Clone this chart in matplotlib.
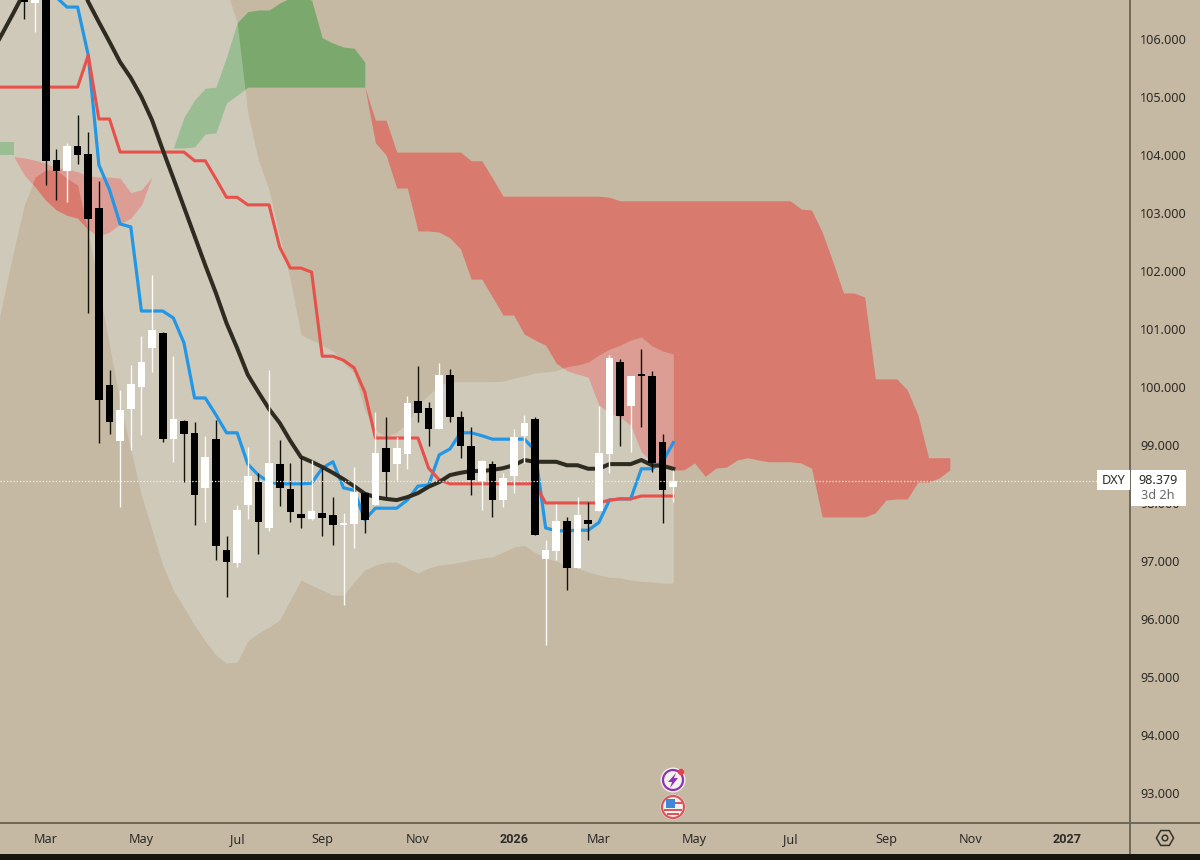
import numpy as np
import matplotlib
matplotlib.use("Agg")
import matplotlib.pyplot as plt
from matplotlib.patches import Rectangle, Circle, Polygon, RegularPolygon
from matplotlib.lines import Line2D
from matplotlib.transforms import Affine2D

plt.rcParams['font.family'] = ['Noto Sans', 'DejaVu Sans']

# ---- weekly candles, week index -2 .. 59 (week 0 = first March 2025 week)
candle_weeks = list(range(-2, 60))
opens = [107.0, 106.62, 107.0, 103.91, 103.72, 104.15, 104.02, 103.09, 100.03, 99.07,
         99.62, 100.0, 100.67, 100.93, 99.10, 99.41, 99.21, 98.26, 99.10, 97.19,
         96.96, 97.97, 98.36, 97.57, 98.67, 98.24, 97.81, 97.72, 97.83, 97.79,
         97.62, 97.64, 98.17, 97.97, 98.95, 98.67, 98.84, 99.76, 99.64, 99.28,
         100.21, 99.48, 98.98, 98.38, 98.67, 98.05, 98.46, 99.15, 99.45, 97.03,
         97.17, 97.69, 96.88, 97.71, 97.86, 98.84, 100.43, 99.67, 100.22, 100.19,
         99.05, 98.28]
highs = [107.1, 107.1, 107.1, 104.10, 104.21, 104.69, 104.40, 103.55, 100.29, 99.95,
         100.38, 100.88, 101.93, 100.95, 100.53, 99.43, 99.40, 99.15, 99.43, 97.43,
         97.97, 98.96, 98.51, 100.29, 99.09, 98.69, 98.79, 98.74, 98.60, 98.10,
         97.83, 98.62, 98.19, 99.57, 99.48, 99.14, 99.84, 100.36, 99.74, 100.41,
         100.31, 99.59, 99.31, 98.74, 98.72, 98.51, 99.28, 99.52, 99.48, 97.36,
         97.98, 97.76, 98.10, 98.02, 99.67, 100.55, 100.48, 100.19, 100.65, 100.28,
         99.19, 98.57]
lows = [106.34, 106.12, 103.48, 103.22, 103.19, 103.84, 101.28, 99.03, 99.19, 97.93,
        98.91, 99.17, 100.26, 99.05, 98.71, 98.36, 97.62, 97.67, 97.02, 96.38,
        96.90, 97.72, 97.12, 97.52, 97.95, 97.67, 97.57, 97.71, 97.43, 97.28,
        96.24, 97.22, 97.48, 97.97, 98.10, 98.40, 98.59, 99.40, 98.99, 99.28,
        99.40, 98.78, 98.14, 97.88, 97.76, 97.93, 98.17, 98.69, 97.45, 95.55,
        97.02, 96.50, 96.88, 97.36, 97.86, 98.51, 98.98, 98.88, 99.31, 98.53,
        97.66, 98.02]
closes = [106.64, 107.0, 103.90, 103.72, 104.15, 104.00, 102.90, 99.78, 99.40, 99.60,
          100.05, 100.43, 100.98, 99.10, 99.45, 99.19, 98.14, 98.79, 97.26, 96.98,
          97.88, 98.46, 97.67, 98.69, 98.26, 97.85, 97.74, 97.86, 97.74, 97.62,
          97.66, 98.19, 97.71, 98.86, 98.53, 98.95, 99.72, 99.55, 99.28, 100.21,
          99.48, 98.98, 98.40, 98.72, 98.05, 98.43, 99.14, 99.38, 97.45, 97.19,
          97.69, 96.88, 97.79, 97.64, 98.86, 100.50, 99.50, 100.19, 100.19, 98.69,
          98.22, 98.379]

# ---- conversion line (blue), week 0 .. 59
blue_weeks = list(range(0, 60))
blue_line = [106.93, 106.72, 106.55, 106.55, 105.72, 103.83, 103.40, 102.81, 102.76, 101.31,
             101.31, 101.31, 101.19, 100.76, 99.81, 99.81, 99.52, 99.21, 99.21, 98.67,
             98.48, 98.36, 98.33, 98.33, 98.33, 98.34, 98.60, 98.71, 98.26, 98.22,
             97.71, 97.91, 97.91, 97.91, 98.05, 98.29, 98.31, 98.83, 98.93, 99.21,
             99.21, 99.16, 99.10, 99.10, 99.10, 99.10, 98.91, 97.57, 97.52, 97.52,
             97.53, 97.53, 97.66, 98.05, 98.07, 98.07, 98.59, 98.59, 98.71, 99.04]

# ---- base line (red) and dark line, week -5 .. 59
line_weeks = list(range(-5, 60))
red_line = [105.17, 105.17, 105.17, 105.17, 105.17, 105.17, 105.17, 105.17, 105.17, 105.72,
            104.62, 104.62, 104.05, 104.05, 104.05, 104.05, 104.05, 104.05, 104.05, 103.90,
            103.90, 103.59, 103.27, 103.27, 103.14, 103.14, 103.14, 102.41, 102.05, 102.05,
            101.98, 100.53, 100.53, 100.46, 100.33, 99.91, 99.12, 99.12, 99.12, 99.12,
            99.12, 98.60, 98.40, 98.33, 98.33, 98.33, 98.33, 98.33, 98.33, 98.33,
            98.33, 98.33, 98.00, 98.00, 98.00, 98.00, 98.00, 98.00, 98.05, 98.07,
            98.07, 98.12, 98.12, 98.12, 98.12]
dark_line = [105.79, 106.12, 106.46, 106.81, 107.05, 107.25, 107.35, 107.30, 107.10, 106.64,
             106.29, 105.95, 105.60, 105.33, 105.00, 104.60, 104.09, 103.60, 103.10, 102.60,
             102.10, 101.62, 101.10, 100.67, 100.21, 99.91, 99.62, 99.38, 99.07, 98.79,
             98.71, 98.62, 98.52, 98.41, 98.29, 98.16, 98.10, 98.07, 98.05, 98.10,
             98.17, 98.28, 98.36, 98.48, 98.52, 98.55, 98.55, 98.57, 98.60, 98.65,
             98.74, 98.71, 98.71, 98.71, 98.65, 98.65, 98.59, 98.59, 98.67, 98.67,
             98.67, 98.74, 98.65, 98.64, 98.59]

# ---- pale envelope, week -5 .. 59
band_upper = [107.5, 107.5, 107.5, 107.5, 107.5, 107.5, 107.5, 107.5, 107.5, 107.5,
              107.5, 107.5, 107.5, 107.5, 107.5, 107.5, 107.5, 107.5, 107.5, 107.5,
              107.5, 107.5, 106.84, 106.28, 104.72, 103.91, 103.40, 102.59, 101.84, 100.90,
              100.81, 100.72, 100.62, 100.41, 100.24, 99.60, 99.26, 99.14, 99.22, 99.38,
              99.69, 99.86, 100.03, 100.09, 100.09, 100.09, 100.09, 100.09, 100.10, 100.15,
              100.19, 100.24, 100.26, 100.28, 100.35, 100.38, 100.43, 100.55, 100.65, 100.72,
              100.81, 100.86, 100.71, 100.62, 100.57]
band_lower = [100.64, 101.50, 102.36, 103.14, 103.62, 103.74, 103.74, 103.60, 103.48, 102.66,
              101.72, 100.72, 99.72, 98.91, 98.14, 97.53, 96.93, 96.50, 96.20, 95.89,
              95.62, 95.38, 95.24, 95.26, 95.62, 95.76, 95.86, 95.98, 96.33, 96.67,
              96.58, 96.50, 96.41, 96.41, 96.64, 96.85, 96.93, 96.98, 96.98, 96.88,
              96.79, 96.88, 96.93, 96.95, 96.98, 97.02, 97.05, 97.07, 97.15, 97.24,
              97.27, 97.15, 97.05, 97.00, 96.91, 96.88, 96.81, 96.76, 96.72, 96.71,
              96.67, 96.65, 96.64, 96.62, 96.62]

# ---- cloud pieces
green_weeks = list(range(12, 31))
green_top = [104.12, 104.65, 104.95, 105.15, 105.17, 105.69, 106.28, 106.47, 106.50, 106.50,
             106.62, 106.71, 106.71, 106.67, 106.02, 105.93, 105.86, 105.84, 105.60]
green_bottom = [104.12, 104.12, 104.14, 104.36, 104.38, 104.90, 105.03, 105.17, 105.17, 105.17,
                105.17, 105.17, 105.17, 105.17, 105.17, 105.17, 105.17, 105.17, 105.17]

red_weeks = list(range(30, 86))
red_top = [105.17, 104.60, 104.60, 104.05, 104.05, 104.05, 104.05, 104.05, 104.05, 104.05,
           103.90, 103.90, 103.60, 103.29, 103.29, 103.29, 103.29, 103.29, 103.29, 103.29,
           103.29, 103.29, 103.29, 103.27, 103.21, 103.21, 103.21, 103.21, 103.21, 103.21,
           103.21, 103.21, 103.21, 103.21, 103.21, 103.21, 103.21, 103.21, 103.21, 103.21,
           103.21, 103.07, 103.05, 102.67, 102.16, 101.62, 101.62, 101.55, 100.14, 100.14,
           100.14, 99.95, 99.52, 98.78, 98.78, 98.78]
red_bottom = [105.17, 104.21, 104.00, 103.43, 103.43, 102.69, 102.69, 102.67, 102.57, 102.38,
              101.86, 101.86, 101.55, 101.24, 101.24, 100.91, 100.81, 100.72, 100.41, 100.28,
              100.22, 100.17, 99.69, 99.55, 99.48, 99.34, 98.88, 98.71, 98.64, 98.57,
              98.57, 98.69, 98.46, 98.60, 98.62, 98.74, 98.78, 98.74, 98.71, 98.71,
              98.71, 98.69, 98.60, 97.76, 97.76, 97.76, 97.76, 97.76, 97.83, 98.05,
              98.07, 98.07, 98.36, 98.36, 98.43, 98.57]

old_green_weeks = [-5, -4, -3]
old_green_top = [104.22, 104.22, 104.22]
old_green_bottom = [104.00, 104.00, 104.00]

old_red_weeks = list(range(-3, 11))
old_red_top = [103.97, 103.95, 103.91, 103.86, 103.78, 103.76, 103.71, 103.64, 103.62, 103.62,
               103.60, 103.35, 103.40, 103.62]
old_red_bottom = [103.97, 103.65, 103.45, 103.22, 103.05, 102.96, 102.91, 102.71, 102.60, 102.67,
                  102.81, 102.91, 103.14, 103.62]

last_price = 98.379
price_ticks = [93, 94, 95, 96, 97, 98, 99, 100, 101, 102, 103, 104, 105, 106]
month_ticks = [0, 9, 18, 26, 35, 44, 52, 61, 70, 79, 87, 96]
month_labels = ['Mar', 'May', 'Jul', 'Sep', 'Nov', '2026', 'Mar', 'May', 'Jul', 'Sep', 'Nov', '2027']

BG = '#c5b9a3'
RED = '#d87a6e'
GREEN = '#7ba86d'
AXC = '#6e685a'
TXT = '#2d2b27'

fig = plt.figure(figsize=(12, 8.6), dpi=100, facecolor=BG)
ax = fig.add_axes([0, 37 / 860, 1130 / 1200, 823 / 860], facecolor=BG)
ax.set_xlim(-4.296, 101.94)
ax.set_ylim(92.482, 106.672)

ax.fill_between(old_green_weeks, old_green_bottom, old_green_top, color=GREEN, lw=0, zorder=1)
ax.fill_between(green_weeks, green_bottom, green_top, color=GREEN, lw=0, zorder=1)
ax.fill_between(red_weeks, red_bottom, red_top, color=RED, lw=0, zorder=1)
ax.fill_between(old_red_weeks, old_red_bottom, old_red_top, color=RED, lw=0, zorder=1)
ax.fill_between(line_weeks, band_lower, band_upper, color='#e8f0f0', alpha=0.30, lw=0, zorder=2)

ax.plot(blue_weeks, blue_line, color='#2297e6', lw=2.3, zorder=3, solid_joinstyle='round')
ax.plot(line_weeks, red_line, color='#e8504a', lw=2.2, zorder=3, solid_joinstyle='round')
ax.plot(line_weeks, dark_line, color='#2e2b20', lw=2.9, zorder=3, solid_joinstyle='round')

for w, o, h, l, c in zip(candle_weeks, opens, highs, lows, closes):
    col = '#ffffff' if c >= o else '#000000'
    wick = '#fbfaf6' if c >= o else '#14120c'
    ax.vlines(w, l, h, color=wick, lw=1.0, zorder=4)
    ax.bar(w, abs(c - o), bottom=min(o, c), width=0.72, color=col, lw=0, zorder=5)

ax.axhline(last_price, color='#f4f2ea', lw=0.9, ls=(0, (1, 1.6)), zorder=6)

for s in ['top', 'left']:
    ax.spines[s].set_visible(False)
for s in ['right', 'bottom']:
    ax.spines[s].set_color(AXC)
    ax.spines[s].set_linewidth(1.4)

ax.yaxis.tick_right()
ax.set_yticks(price_ticks)
ax.set_yticklabels([f'{v:.3f}' for v in price_ticks])
ax.tick_params(axis='y', length=0, pad=7.5, labelsize=9.1, labelcolor=TXT)
ax.set_xticks(month_ticks)
ax.set_xticklabels(month_labels)
ax.tick_params(axis='x', length=0, pad=7.5, labelsize=9.1, labelcolor=TXT)
for lab in ax.get_xticklabels():
    if lab.get_text().startswith('20'):
        lab.set_family('Roboto')
        lab.set_fontweight('bold')

# ---- screen furniture, positioned in image pixels
T = Affine2D().scale(1, -1).translate(0, 860)

def add(art, z=10):
    art.set_transform(T)
    art.set_zorder(z)
    fig.add_artist(art)

add(Line2D([0, 1200], [823, 823], color=AXC, lw=1.4))
add(Line2D([1130, 1130], [823, 854], color=AXC, lw=1.4))
add(Rectangle((0, 854), 1200, 6, fc='#17150f', ec='none'))

add(Rectangle((1097, 470), 33, 20, fc='white', ec='none'), 11)
add(Rectangle((1130.7, 470), 55, 36, fc='white', ec='none'), 11)
for x, y, s, c in [(1113.5, 480.5, 'DXY', TXT), (1158, 480.5, '98.379', TXT), (1158, 495.5, '3d 2h', '#6a6862')]:
    t = fig.text(x / 1200, 1 - y / 860, s, ha='center', va='center', fontsize=9.1, color=c, zorder=12)

# lightning event marker
add(Circle((673, 780), 12.5, fc='#f4f1ec', ec='none'), 11)
add(Circle((673, 780), 10, fc='none', ec='#8a33b5', lw=1.6), 12)
add(Polygon([(676, 773), (668, 782), (672, 782), (670, 788), (678, 778), (674, 778)],
            closed=True, fc='#8a33b5', ec='none'), 12)
add(Circle((681, 772), 3.2, fc='#e8404e', ec='none'), 13)

# flag event marker
add(Circle((673, 807), 12.5, fc='#f4f1ec', ec='none'), 11)
add(Rectangle((666, 799), 9, 9, fc='#3f87d8', ec='none'), 12)
add(Rectangle((675, 802), 7, 2.2, fc='#d9565a', ec='none'), 12)
add(Rectangle((664, 809), 18, 2.4, fc='#d9565a', ec='none'), 12)
add(Rectangle((667, 813), 12, 2.2, fc='#d9565a', ec='none'), 12)
add(Circle((673, 807), 11, fc='none', ec='#d9565a', lw=1.6), 13)

# settings icon
add(RegularPolygon((1165, 838), 6, radius=8.6, orientation=np.pi / 2, fc='none', ec='#35322a', lw=1.1), 11)
add(Circle((1165, 838), 2.8, fc='none', ec='#35322a', lw=1.1), 11)

fig.savefig('out.png', dpi=100, facecolor=BG)
